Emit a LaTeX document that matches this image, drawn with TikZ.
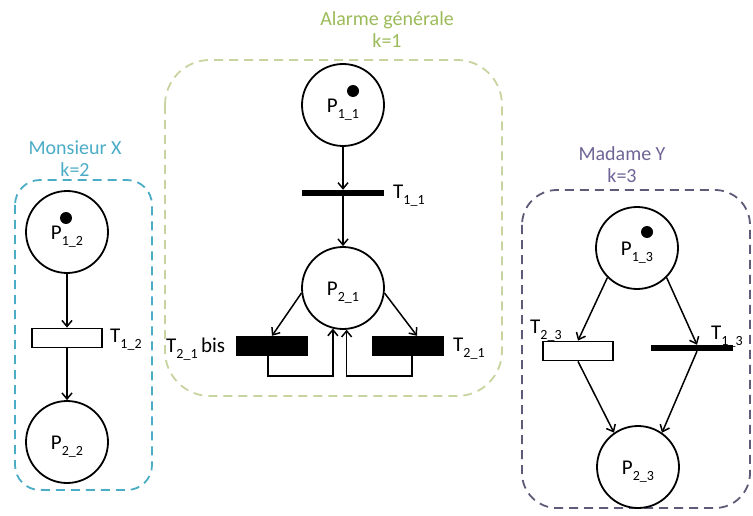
\documentclass[tikz,border=0pt]{standalone}
\usepackage{fontspec}
\setmainfont{Carlito}
\usetikzlibrary{arrows.meta,calc}
\definecolor{grntxt}{RGB}{155,187,89}
\definecolor{grnln}{RGB}{200,212,160}
\definecolor{blu}{RGB}{75,172,198}
\definecolor{purtxt}{RGB}{112,100,150}
\definecolor{purln}{RGB}{95,90,120}
\newcommand{\subs}[1]{\raisebox{-0.3em}{\fontsize{14}{16}\selectfont #1}}
\newcommand{\pl}[1]{\rule{0pt}{23pt}P\subs{#1}}
\begin{document}
\begin{tikzpicture}[x=1pt,y=-1pt,
  place/.style={circle,draw,line width=1.8pt,minimum size=82pt,inner sep=0pt,font=\fontsize{21}{24}\selectfont},
  token/.style={circle,fill=black,minimum size=12pt,inner sep=0pt},
  trw/.style={rectangle,draw,line width=1.8pt,fill=white,minimum width=70pt,minimum height=19pt,inner sep=0pt},
  trb/.style={rectangle,fill=black,minimum width=72pt,minimum height=20pt,inner sep=0pt},
  tbar/.style={rectangle,fill=black,minimum width=82pt,minimum height=6pt,inner sep=0pt},
  arc/.style={line width=1.5pt,-{Straight Barb[length=6pt,width=10pt,line width=1.5pt]}},
  lbl/.style={font=\fontsize{21}{24}\selectfont,inner sep=0pt,anchor=west},
  ttl/.style={font=\fontsize{20}{22}\selectfont,align=center,inner sep=0pt},
  grp/.style={dash pattern=on 9pt off 6pt,line width=1.8pt}]
\useasboundingbox (0,0) rectangle (753,516);

% group frames
\draw[grp,grnln,rounded corners=45pt] (165,60) rectangle (502,396);
\draw[grp,blu,rounded corners=25pt] (15,180) rectangle (152,490);
\draw[grp,purln,rounded corners=35pt] (522,190) rectangle (750,508);

% titles
\node[ttl,text=grntxt] (tg) at (387,30) {Alarme générale\\k=1};
\node[ttl,text=blu] (tb) at (75,159) {Monsieur X\\k=2};
\node[ttl,text=purtxt] (tp) at (622,165) {Madame Y\\k=3};

% Monsieur X
\node[place] (P12) at (67,232) {\pl{1\_2}};
\node[token] (tok12) at (66,218) {};
\node[trw] (T12) at (67,338) {};
\node[place] (P22) at (67,442) {\pl{2\_2}};
\node[lbl] (lT12) at (110,340) {T\subs{1\_2}};
\draw[arc] (P12) -- (T12);
\draw[arc] (T12) -- (P22);

% Alarme generale
\node[place] (P11) at (343,105) {\pl{1\_1}};
\node[token] (tok11) at (353,91) {};
\node[tbar] (T11) at (343,193) {};
\node[lbl] (lT11) at (393,196) {T\subs{1\_1}};
\node[place] (P21) at (343,288) {\pl{2\_1}};
\node[trb] (T21b) at (272,346) {};
\node[trb] (T21) at (408,346) {};
\node[lbl] (lT21b) at (166,349) {T\subs{2\_1}\,bis};
\node[lbl] (lT21) at (453,349) {T\subs{2\_1}};
\draw[arc] (P11) -- (T11);
\draw[arc] (T11) -- (P21);
\draw[arc] (P21.187) -- (T21b.north);
\draw[arc] (P21.-7) -- ($(T21.north)+(9,0)$);
\draw[arc] ($(T21b.south)+(-4,0)$) -- ++(0,20) -| (P21.256);
\draw[arc] ($(T21.south)+(4,0)$) -- ++(0,20) -| (P21.275);

% Madame Y
\node[place] (P13) at (637,248) {\pl{1\_3}};
\node[token] (tok13) at (647,232) {};
\node[trw] (T23) at (578,351) {};
\node[tbar] (T13) at (692,348) {};
\node[place] (P23) at (638,467) {\pl{2\_3}};
\node[lbl] (lT23) at (530,331) {T\subs{2\_3}};
\node[lbl] (lT13) at (711,337) {T\subs{1\_3}};
\draw[arc] (P13.225) -- (T23.north);
\draw[arc] (P13.-45) -- ($(T13.north)+(5,0)$);
\draw[arc] (T23.south) -- (P23.125);
\draw[arc] ($(T13.south)+(5,0)$) -- (P23.55);
\end{tikzpicture}
\end{document}
